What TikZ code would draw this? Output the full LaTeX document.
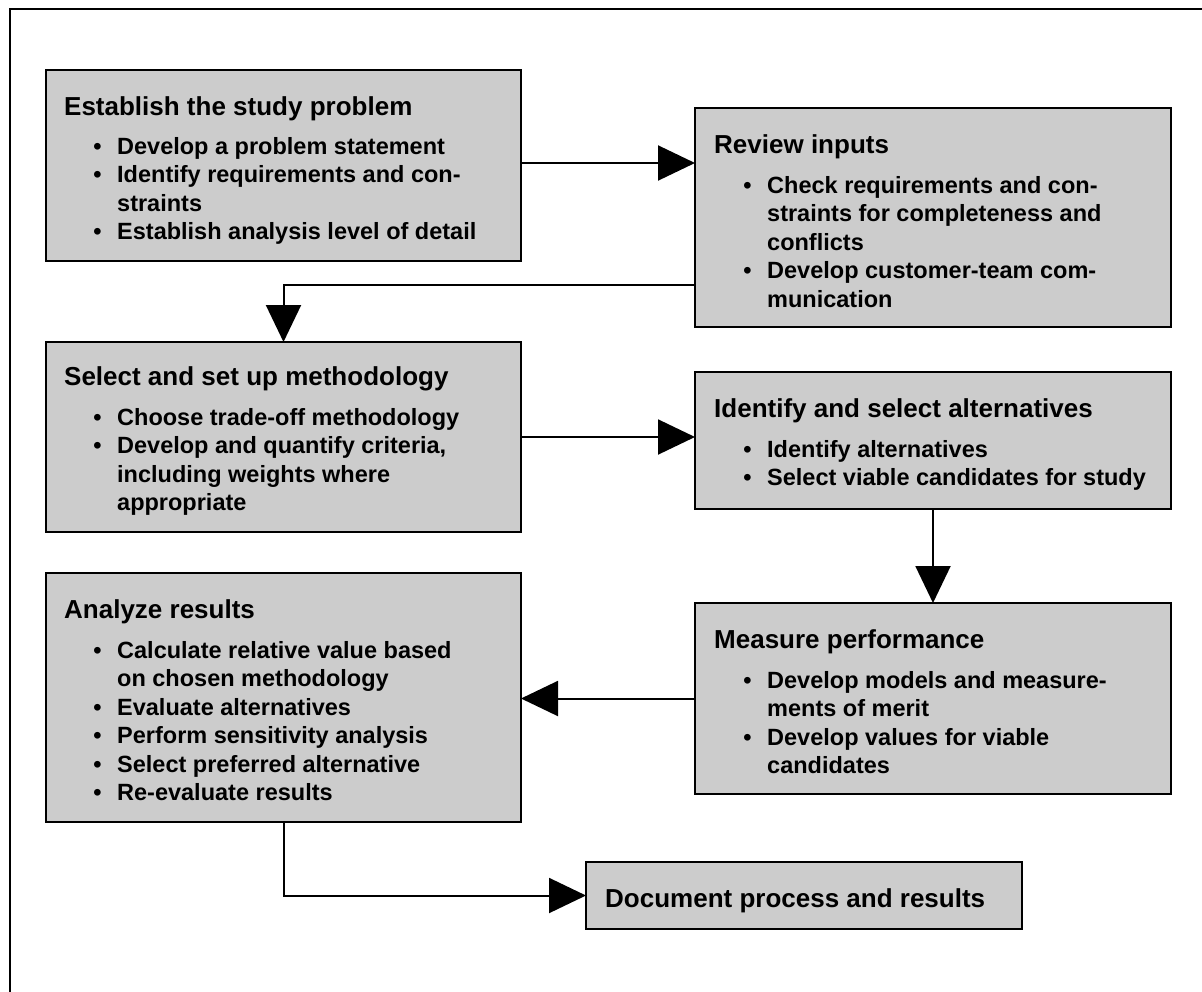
\documentclass[tikz,border=0pt]{standalone}
\usepackage{fontspec}
\setmainfont{Liberation Sans}
\usetikzlibrary{arrows.meta}
\definecolor{boxgray}{RGB}{204,204,204}
\newcommand\bulitem{\leavevmode\llap{•\hspace{15.5pt}}}
\begin{document}
\begin{tikzpicture}[x=1pt,y=-1pt,
  stepbox/.style={draw=black, line width=2pt, fill=boxgray, inner sep=0pt, outer sep=0pt, anchor=north west},
  ttl/.style={anchor=base west, inner sep=0pt, font=\bfseries\fontsize{26}{30}\selectfont},
  lst/.style={anchor=base west, inner sep=0pt, font=\bfseries\fontsize{23.5}{28.5}\selectfont},
  conn/.style={line width=2pt, -{Triangle[length=37pt,width=35pt]}}
]
\useasboundingbox (0,0) rectangle (1202,991);
\fill[white] (0,0) rectangle (1202,991);
% outer frame (only top and left visible)
\draw[line width=2pt] (1210,8.5) -- (9.5,8.5) -- (9.5,1000);

% boxes
\node[stepbox, minimum width=475pt, minimum height=191pt] (b1) at (46,70) {};
\node[stepbox, minimum width=476pt, minimum height=219pt] (b2) at (695,108) {};
\node[stepbox, minimum width=475pt, minimum height=190pt] (b3) at (46,342) {};
\node[stepbox, minimum width=476pt, minimum height=137pt] (b4) at (695,372) {};
\node[stepbox, minimum width=476pt, minimum height=191pt] (b5) at (695,603) {};
\node[stepbox, minimum width=475pt, minimum height=249pt] (b6) at (46,573) {};
\node[stepbox, minimum width=436pt, minimum height=67pt] (b7) at (586,862) {};

% texts
\node[ttl] (t1) at (64,115) {Establish the study problem};
\node[lst] (l1) at (117,154) {\parbox[t]{420pt}{\bulitem Develop a problem statement\\
\bulitem Identify requirements and con-\\
straints\\
\bulitem Establish analysis level of detail}};

\node[ttl] (t2) at (714,153) {Review inputs};
\node[lst] (l2) at (767,193) {\parbox[t]{420pt}{\bulitem Check requirements and con-\\
straints for completeness and\\
conflicts\\
\bulitem Develop customer-team com-\\
munication}};

\node[ttl] (t3) at (64,385) {Select and set up methodology};
\node[lst] (l3) at (117,425) {\parbox[t]{420pt}{\bulitem Choose trade-off methodology\\
\bulitem Develop and quantify criteria,\\
including weights where\\
appropriate}};

\node[ttl] (t4) at (714,417) {Identify and select alternatives};
\node[lst] (l4) at (767,457) {\parbox[t]{420pt}{\bulitem Identify alternatives\\
\bulitem Select viable candidates for study}};

\node[ttl] (t5) at (714,648) {Measure performance};
\node[lst] (l5) at (767,688) {\parbox[t]{420pt}{\bulitem Develop models and measure-\\
ments of merit\\
\bulitem Develop values for viable\\
candidates}};

\node[ttl] (t6) at (64,618) {Analyze results};
\node[lst] (l6) at (117,658) {\parbox[t]{420pt}{\bulitem Calculate relative value based\\
on chosen methodology\\
\bulitem Evaluate alternatives\\
\bulitem Perform sensitivity analysis\\
\bulitem Select preferred alternative\\
\bulitem Re-evaluate results}};

\node[ttl] (t7) at (605,907) {Document process and results};

% connectors
\draw[conn] ([yshift=2.5pt]b1.east) -- ([yshift=2.5pt]b1.east -| b2.west);
\draw[conn] ([yshift=-67.5pt]b2.west) -| (b3.north);
\draw[conn] (b3.east) -- (b3.east -| b4.west);
\draw[conn] (b4.south) -- (b5.north);
\draw[conn] (b5.west) -- (b5.west -| b6.east);
\draw[conn] (b6.south) |- (b7.west);
\end{tikzpicture}
\end{document}
